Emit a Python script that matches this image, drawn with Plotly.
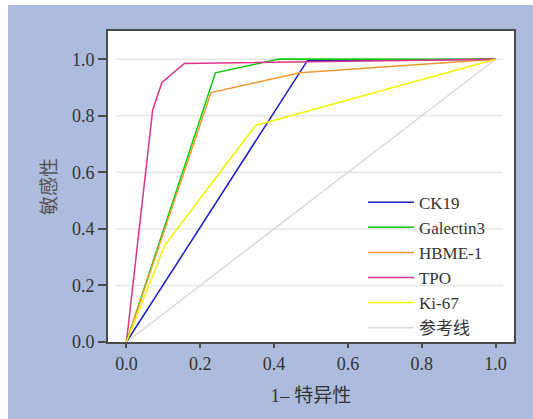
import plotly.graph_objects as go

# ---- data ----
series_names = ["CK19", "Galectin3", "HBME-1", "TPO", "Ki-67", "参考线"]
ck19_x = [0.0, 0.490, 1.0]
ck19_y = [0.0, 0.995, 1.0]
gal_x = [0.0, 0.241, 0.413, 1.0]
gal_y = [0.0, 0.952, 1.001, 1.0]
hbme_x = [0.0, 0.229, 0.469, 1.0]
hbme_y = [0.0, 0.882, 0.952, 1.0]
tpo_x = [0.0, 0.071, 0.096, 0.157, 1.0]
tpo_y = [0.0, 0.820, 0.918, 0.985, 1.0]
ki67_x = [0.0, 0.104, 0.350, 1.0]
ki67_y = [0.0, 0.343, 0.766, 1.0]
ref_x = [0.0, 1.0]
ref_y = [0.0, 1.0]
tick_vals = [0.0, 0.2, 0.4, 0.6, 0.8, 1.0]
tick_text = ["0.0", "0.2", "0.4", "0.6", "0.8", "1.0"]
grid_vals = [0.2, 0.4, 0.6, 0.8, 1.0]

colors = ["#1a1acd", "#0ccc0c", "#f0982e", "#dd3388", "#f5f500", "#d9d9d9"]
xs = [ck19_x, gal_x, hbme_x, tpo_x, ki67_x, ref_x]
ys = [ck19_y, gal_y, hbme_y, tpo_y, ki67_y, ref_y]

BG = "#adbbdc"
AX = "#4a4a4a"
SERIF = "'Liberation Serif', 'Times New Roman', 'Noto Sans CJK SC', serif"

W, H = 533, 419
ML, MR, MT, MB = 108, 19, 31, 77
PW, PH = W - ML - MR, H - MT - MB

fig = go.Figure()

# gridlines (horizontal, slightly inset from frame)
for g in grid_vals:
    fig.add_shape(type="line", xref="x", yref="y", x0=-0.03, x1=1.02, y0=g, y1=g,
                  line=dict(color="#e6e6e6", width=1.5), layer="below")

# white page edge at left and top, as in the reference picture
fig.add_shape(type="rect", xref="paper", yref="paper",
              x0=-ML / PW - 0.01, x1=-(ML - 8) / PW, y0=-1, y1=2,
              fillcolor="white", line=dict(width=0), layer="below")
fig.add_shape(type="rect", xref="paper", yref="paper",
              x0=-1, x1=2, y0=1 + (MT - 5) / PH, y1=1 + MT / PH + 0.01,
              fillcolor="white", line=dict(width=0), layer="below")

# reference line first so it sits beneath
order = [5, 0, 1, 2, 3, 4]
for i in order:
    fig.add_trace(go.Scatter(
        x=xs[i], y=ys[i], mode="lines", name=series_names[i],
        line=dict(color=colors[i], width=1.5),
        legendrank=i + 1,
    ))

fig.update_layout(
    width=W, height=H,
    margin=dict(l=ML, r=MR, t=MT, b=MB, pad=0),
    paper_bgcolor=BG,
    plot_bgcolor="white",
    font=dict(family=SERIF, size=18, color="#333333"),
    showlegend=True,
    legend=dict(
        x=0.628, y=0.506, xanchor="left", yanchor="top",
        bgcolor="rgba(0,0,0,0)", borderwidth=0,
        font=dict(family=SERIF, size=17, color="#333333"),
        itemwidth=46, tracegroupgap=0,
    ),
    xaxis=dict(
        range=[-0.05, 1.05], tickvals=tick_vals, ticktext=tick_text,
        showgrid=False, zeroline=False,
        showline=True, mirror=True, linecolor=AX, linewidth=2,
        ticks="outside", ticklen=4, tickwidth=1.5, tickcolor=AX,
        tickfont=dict(family=SERIF, size=18, color="#333333"),
        title=dict(text="1– 特异性", standoff=16,
                   font=dict(family=SERIF, size=19, color="#333333")),
    ),
    yaxis=dict(
        range=[0, 1.1], tickvals=tick_vals, ticktext=tick_text,
        showgrid=False, zeroline=False,
        showline=True, mirror=True, linecolor=AX, linewidth=2,
        ticks="outside", ticklen=8, tickwidth=1.5, tickcolor=AX,
        tickfont=dict(family=SERIF, size=18, color="#333333"),
        title=dict(text="敏感性", standoff=10,
                   font=dict(family=SERIF, size=19, color="#555555")),
    ),
)

fig.write_html("out.html",
               config={"displayModeBar": False},
               post_script="document.body.style.margin='0';"
                           "document.documentElement.style.overflow='hidden';")
